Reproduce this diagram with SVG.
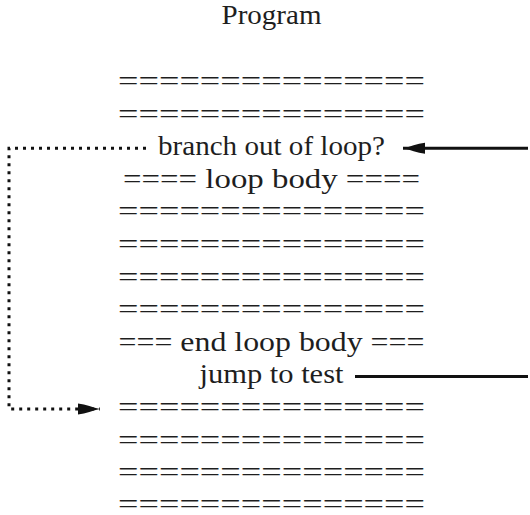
<svg xmlns="http://www.w3.org/2000/svg" width="530" height="515" viewBox="0 0 530 515">
  <defs>
    <style>
      text { font-family: "Liberation Serif", "DejaVu Serif", "Noto Serif", serif; font-size: 27px; fill: #1e1e1e; text-anchor: middle; }
      .dot { fill: none; stroke: #111; stroke-width: 3; stroke-dasharray: 3 5; }
      .solid { fill: none; stroke: #111; stroke-width: 3; }
    </style>
    <marker id="head" markerUnits="userSpaceOnUse" markerWidth="26" markerHeight="14" refX="22" refY="7" orient="auto" overflow="visible">
      <path d="M22,7 C15,5.6 8,2.5 0,1.5 L0,12.5 C8,11.5 15,8.4 22,7 Z" fill="#111"/>
    </marker>
  </defs>

  <rect width="530" height="515" fill="#fff"/>

  <g id="title">
    <text font-family="Liberation Serif, serif" x="271.5" y="24" textLength="100" lengthAdjust="spacingAndGlyphs">Program</text>
  </g>

  <!-- program listing, one line per group -->
  <g id="line0"><text x="271.5" y="90" textLength="307" lengthAdjust="spacingAndGlyphs">===============</text></g>
  <g id="line1"><text x="271.5" y="122.6" textLength="307" lengthAdjust="spacingAndGlyphs">===============</text></g>
  <g id="branch"><text x="271.5" y="154.8" textLength="227" lengthAdjust="spacingAndGlyphs">branch out of loop?</text></g>
  <g id="loop-body"><text x="271.5" y="187.6" textLength="297" lengthAdjust="spacingAndGlyphs">==== loop body ====</text></g>
  <g id="line4"><text x="271.5" y="220.4" textLength="307" lengthAdjust="spacingAndGlyphs">===============</text></g>
  <g id="line5"><text x="271.5" y="253" textLength="307" lengthAdjust="spacingAndGlyphs">===============</text></g>
  <g id="line6"><text x="271.5" y="285.6" textLength="307" lengthAdjust="spacingAndGlyphs">===============</text></g>
  <g id="line7"><text x="271.5" y="318.2" textLength="307" lengthAdjust="spacingAndGlyphs">===============</text></g>
  <g id="end-loop-body"><text x="271.5" y="350.6" textLength="306" lengthAdjust="spacingAndGlyphs">=== end loop body ===</text></g>
  <g id="jump"><text x="271.5" y="383" textLength="144" lengthAdjust="spacingAndGlyphs">jump to test</text></g>
  <g id="line10"><text x="271.5" y="416" textLength="307" lengthAdjust="spacingAndGlyphs">===============</text></g>
  <g id="line11"><text x="271.5" y="448.6" textLength="307" lengthAdjust="spacingAndGlyphs">===============</text></g>
  <g id="line12"><text x="271.5" y="481.2" textLength="307" lengthAdjust="spacingAndGlyphs">===============</text></g>
  <g id="line13"><text x="271.5" y="512.5" textLength="307" lengthAdjust="spacingAndGlyphs">===============</text></g>

  <g id="connectors">
    <!-- exit taken from the loop test -->
    <path class="dot" d="M146,148.2 H9 V409 H100" marker-end="url(#head)"/>
    <!-- entry into the loop test -->
    <path class="solid" d="M528,148.2 H403" marker-end="url(#head)"/>
    <!-- back edge leaving the jump -->
    <path class="solid" d="M355,376.4 H528"/>
  </g>
</svg>
